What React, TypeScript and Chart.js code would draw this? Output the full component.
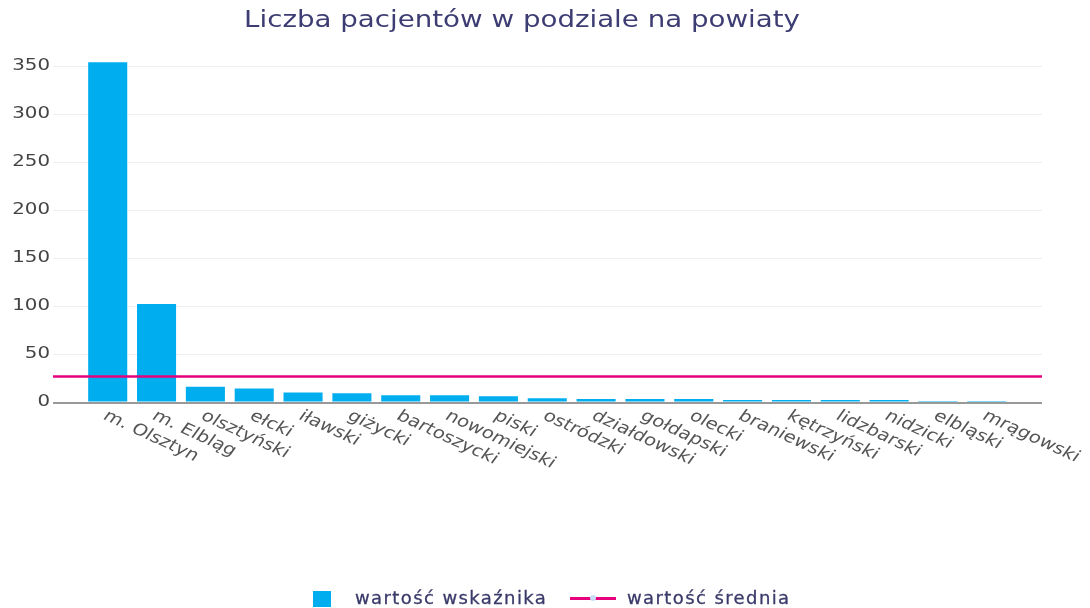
import React, { useEffect, useRef } from "react";
import { Chart, registerables } from "chart.js";

Chart.register(...registerables);

const titleText = "Liczba pacjentów w podziale na powiaty";
const categories = [
  "m. Olsztyn", "m. Elbląg", "olsztyński", "ełcki", "iławski", "giżycki",
  "bartoszycki", "nowomiejski", "piski", "ostródzki", "działdowski", "gołdapski",
  "olecki", "braniewski", "kętrzyński", "lidzbarski", "nidzicki", "elbląski", "mrągowski",
];
const values = [354, 102, 16, 14, 10, 9, 7, 7, 6, 4, 3, 3, 3, 2, 2, 2, 2, 1, 1];
const averageValue = 26.7;
const yTicks = [0, 50, 100, 150, 200, 250, 300, 350];
const seriesNames = ["wartość wskaźnika", "wartość średnia"];

const X_MIN = -1.12;
const X_MAX = 19.13;
const Y_MAX = 372;

const BAR_COLOR = "#00AEEF";
const LINE_COLOR = "#E6007E";
const STRETCH = 1.25;

export default function App() {
  const ref = useRef<HTMLCanvasElement | null>(null);

  useEffect(() => {
    document.body.style.margin = "0";
    const canvas = ref.current;
    if (!canvas) return;

    const textPlugin = {
      id: "customText",
      beforeDatasetsDraw(chart: any) {
        const ctx = chart.ctx;
        const ys = chart.scales.y;
        const area = chart.chartArea;
        const y0 = ys.getPixelForValue(0) + 1;
        ctx.save();
        ctx.strokeStyle = "#999999";
        ctx.lineWidth = 2;
        ctx.beginPath();
        ctx.moveTo(area.left, y0);
        ctx.lineTo(area.right, y0);
        ctx.stroke();
        ctx.restore();
      },
      afterDraw(chart: any) {
        const ctx = chart.ctx;
        const xs = chart.scales.x;
        const ys = chart.scales.y;
        ctx.save();
        // x category labels (rotated clockwise, starting at the tick)
        ctx.font = "16px 'DejaVu Sans'";
        ctx.fillStyle = "#555555";
        ctx.textAlign = "left";
        ctx.textBaseline = "top";
        categories.forEach((c, i) => {
          const px = xs.getPixelForValue(i);
          ctx.save();
          ctx.translate(px + 2, 408);
          ctx.scale(STRETCH, 1);
          ctx.rotate((30 * Math.PI) / 180);
          ctx.fillText(c, 0, 0);
          ctx.restore();
        });
        // y tick labels
        ctx.font = "15px 'DejaVu Sans'";
        ctx.fillStyle = "#444444";
        ctx.textAlign = "right";
        ctx.textBaseline = "middle";
        yTicks.forEach((t) => {
          const py = ys.getPixelForValue(t);
          ctx.save();
          ctx.translate(50, py);
          ctx.scale(1.32, 1);
          ctx.fillText(String(t), 0, 0);
          ctx.restore();
        });
        // title
        ctx.font = "22.5px 'DejaVu Sans'";
        ctx.fillStyle = "#3d3d73";
        ctx.textAlign = "center";
        ctx.textBaseline = "middle";
        ctx.save();
        ctx.translate(522, 21);
        ctx.scale(1.23, 1);
        ctx.fillText(titleText, 0, 0);
        ctx.restore();
        ctx.restore();
      },
    };

    const chart = new Chart(canvas, {
      type: "bar",
      data: {
        datasets: [
          {
            type: "line",
            label: seriesNames[1],
            data: [
              { x: X_MIN, y: averageValue },
              { x: X_MAX, y: averageValue },
            ],
            borderColor: LINE_COLOR,
            borderWidth: 2.5,
            pointRadius: 0,
            order: 0,
          } as any,
          {
            type: "bar",
            label: seriesNames[0],
            data: values.map((v, i) => ({ x: i, y: v })),
            backgroundColor: BAR_COLOR,
            barPercentage: 0.8,
            categoryPercentage: 1,
            order: 1,
          } as any,
        ],
      },
      options: {
        animation: false,
        responsive: false,
        layout: { padding: { top: 45, right: 48, left: 0, bottom: 0 } },
        plugins: {
          legend: { display: false },
          title: { display: false },
          tooltip: { enabled: false },
        },
        scales: {
          x: {
            type: "linear",
            offset: false,
            min: X_MIN,
            max: X_MAX,
            grid: { display: false },
            border: { display: false },
            ticks: { display: false },
            afterFit: (s: any) => {
              s.height = 206;
            },
          },
          y: {
            min: 0,
            max: Y_MAX,
            grid: { color: "#eeeeee", drawTicks: false },
            border: { display: false },
            ticks: { display: false },
            afterBuildTicks: (s: any) => {
              s.ticks = yTicks.map((v) => ({ value: v }));
            },
            afterFit: (s: any) => {
              s.width = 53;
            },
          },
        },
      } as any,
      plugins: [textPlugin],
    });
    return () => chart.destroy();
  }, []);

  const textStyle: React.CSSProperties = {
    position: "absolute",
    top: 586,
    fontFamily: "'DejaVu Sans'",
    fontSize: 18,
    letterSpacing: "1.4px",
    color: "#3a3a6a",
    lineHeight: "24px",
    whiteSpace: "nowrap",
    WebkitTextStroke: "0.3px #3a3a6a",
  };

  return (
    <div style={{ position: "relative", width: 1090, height: 608, background: "#fff" }}>
      <canvas ref={ref} width={1090} height={608} style={{ display: "block" }} />
      <span style={{ position: "absolute", left: 313, top: 591, width: 18, height: 16, background: BAR_COLOR }} />
      <span style={{ ...textStyle, left: 355 }}>{seriesNames[0]}</span>
      <span style={{ position: "absolute", left: 570, top: 597, width: 46, height: 2.5, background: LINE_COLOR }} />
      <span style={{ position: "absolute", left: 590, top: 595, width: 6, height: 6, borderRadius: 3, background: "#c9def5" }} />
      <span style={{ ...textStyle, left: 627 }}>{seriesNames[1]}</span>
    </div>
  );
}
